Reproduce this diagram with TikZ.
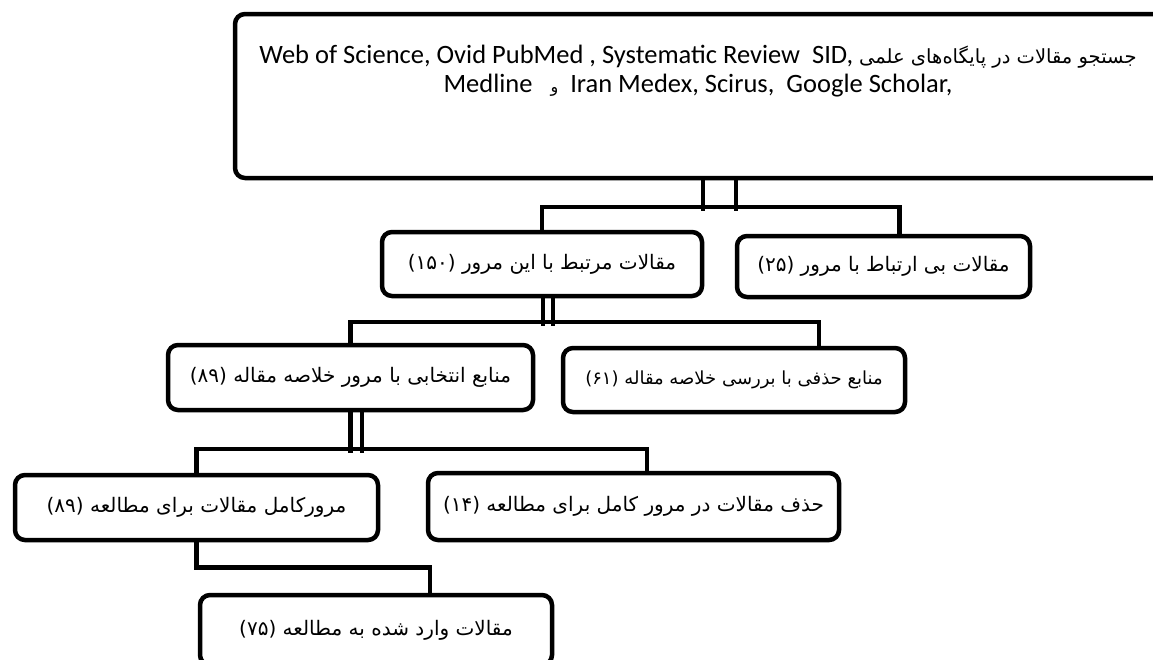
\documentclass[tikz,border=0pt]{standalone}
\usepackage{fontspec}
\setmainfont{Carlito}
\newfontfamily\arabicfont[Script=Arabic]{DejaVu Sans}
\TeXXeTstate=1
\usetikzlibrary{calc}
\begin{document}
\begin{tikzpicture}[x=1pt,y=-1pt,
  box/.style={draw=black, line width=4.5pt, rounded corners=10pt, inner sep=0pt,
    font=\arabicfont\fontsize{20}{24}\selectfont},
  conn/.style={draw=black, line width=4.5pt},
  toptext/.style={align=center, inner sep=0pt, font=\fontsize{26.5}{29}\selectfont}]
\useasboundingbox (0,0) rectangle (1153,659);
\clip (0,0) rectangle (1153,659);
\fill[white] (0,0) rectangle (1153,659);
% boxes
\node[box, minimum width=930pt, minimum height=164pt] (T) at (700,96) {};
\node[toptext] (Ttext) at (698,71) {Web of Science, Ovid PubMed , Systematic Review\ \ SID, {\arabicfont\fontsize{19.5}{29}\selectfont\beginR جستجو مقالات در پایگاه‌های علمی\endR}\\
Medline\ \ \ {\arabicfont\fontsize{16}{29}\selectfont و}\ \ Iran Medex, Scirus,\ \ Google Scholar,};
\node[box, minimum width=320pt, minimum height=64pt] (A) at (542,264) {\beginR مقالات  مرتبط با این مرور (۱۵۰)\endR};
\node[box, minimum width=293pt, minimum height=61pt] (B) at (883.5,266.5) {\beginR مقالات  بی ارتباط  با مرور (۲۵)\endR};
\node[box, minimum width=365pt, minimum height=65pt] (C) at (350.5,377.5) {\beginR منابع  انتخابی با مرور خلاصه مقاله (۸۹)\endR};
\node[box, minimum width=342pt, minimum height=64pt, font=\arabicfont\fontsize{18}{24}\selectfont] (D) at (734,380) {\beginR منابع  حذفی  با بررسی خلاصه  مقاله  (۶۱)\endR};
\node[box, minimum width=363pt, minimum height=65pt] (F) at (196.5,507.5) {\beginR مرورکامل  مقالات برای مطالعه  (۸۹)\endR};
\node[box, minimum width=411pt, minimum height=67pt] (E) at (633.5,506.5) {\beginR حذف مقالات در مرور کامل برای مطالعه (۱۴)\endR};
\node[box, minimum width=352pt, minimum height=70pt] (G) at (376,630) {\beginR مقالات  وارد شده به مطالعه  (۷۵)\endR};
% connectors
\draw[conn] ($(T.south)+(3,0)$) -- ($(T.south)+(3,31)$);
\draw[conn] ($(T.south)+(36,0)$) -- ($(T.south)+(36,31)$);
\draw[conn] (A.north) -- ++(0,-23) -| ($(B.north)+(16,0)$);
\draw[conn] ($(A.south)+(1,0)$) -- ($(A.south)+(1,28)$);
\draw[conn] ($(A.south)+(11,0)$) -- ($(A.south)+(11,28)$);
\draw[conn] (C.north) -- ++(0,-21) -| ($(D.north)+(85,0)$);
\draw[conn] ($(C.south)+(0,0)$) -- ($(C.south)+(0,41)$);
\draw[conn] ($(C.south)+(11.5,0)$) -- ($(C.south)+(11.5,41)$);
\draw[conn] (F.north) -- ++(0,-24) -| ($(E.north)+(13.5,0)$);
\draw[conn] (F.south) -- ++(0,25) -| ($(G.north)+(54,0)$);
\end{tikzpicture}
\end{document}
